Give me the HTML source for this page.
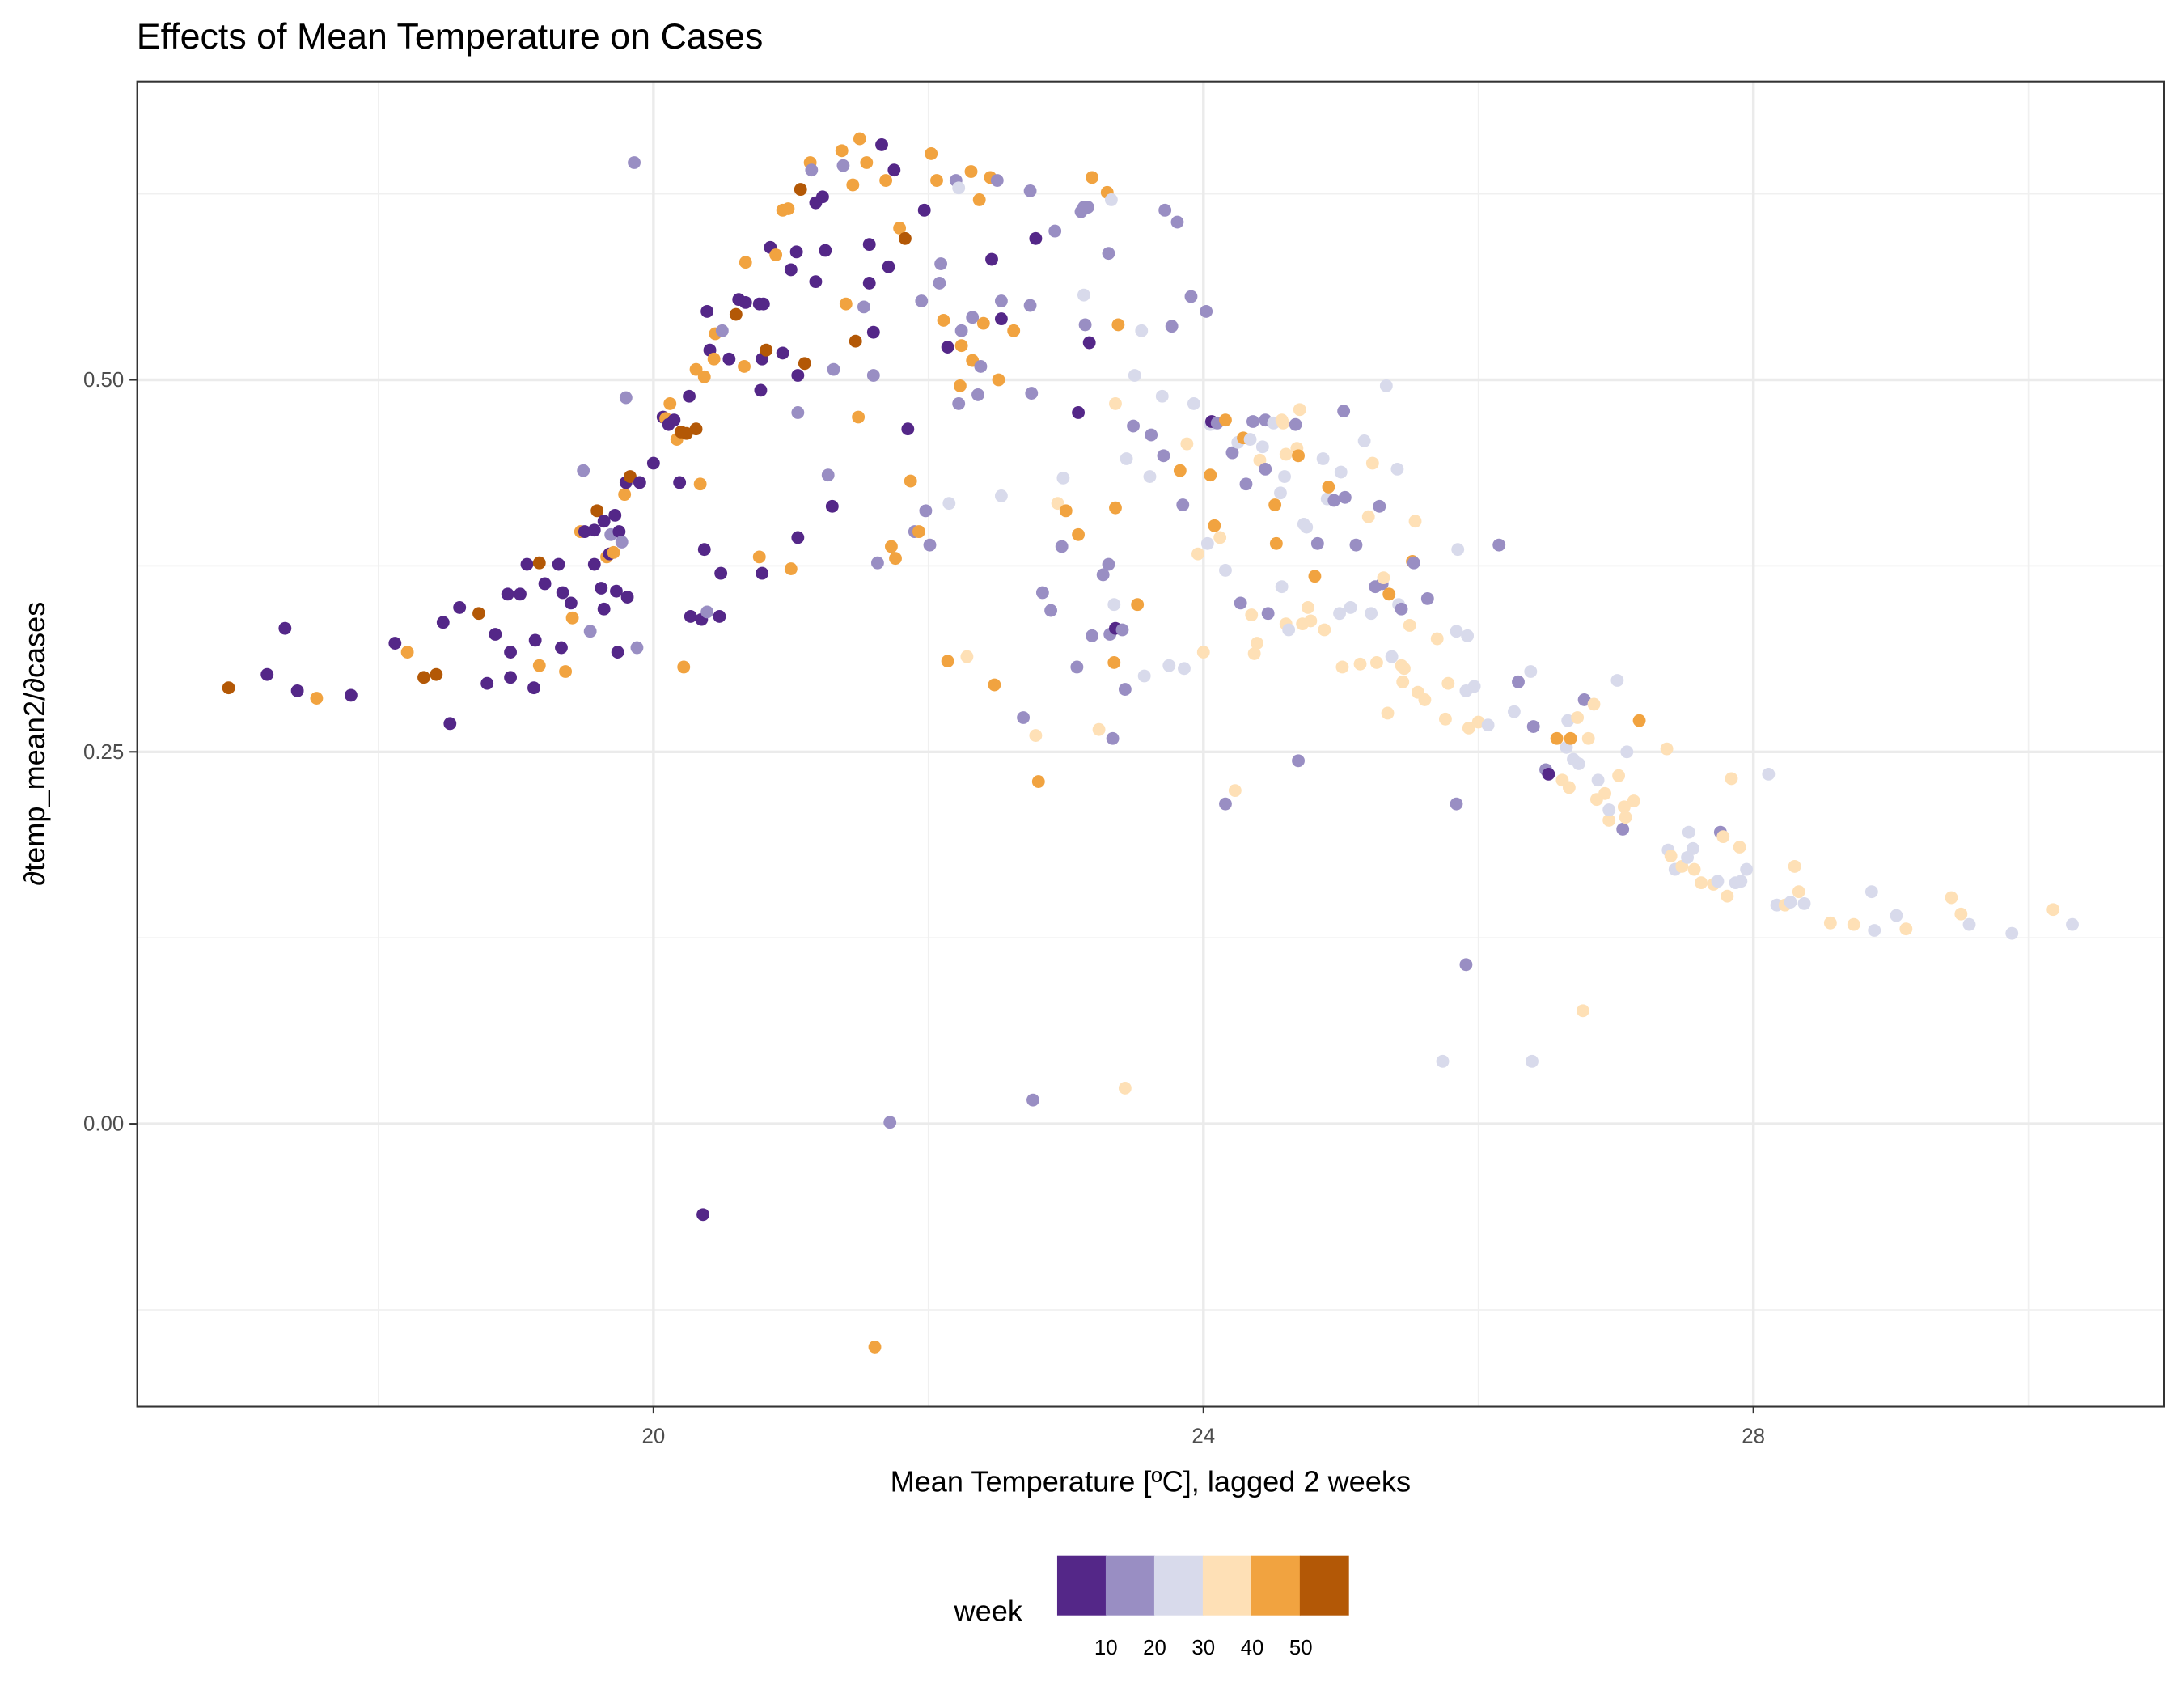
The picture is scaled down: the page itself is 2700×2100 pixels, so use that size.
<!DOCTYPE html>
<html><head><meta charset="utf-8"><title>Effects of Mean Temperature on Cases</title>
<style>html,body{margin:0;padding:0;background:#fff}svg{display:block}text{font-family:"Liberation Sans",Arial,sans-serif}</style>
</head><body>
<svg id="chart" width="2700" height="2100" viewBox="0 0 1568 1220" preserveAspectRatio="none" xmlns="http://www.w3.org/2000/svg">
<text x="98" y="35" font-size="26" fill="#000">Effects of Mean Temperature on Cases</text>
<g id="grid"></g>
<g id="pts"></g>
<rect x="98.5" y="58.5" width="1455" height="951.5" fill="none" stroke="#333" stroke-width="1.2"/>
<g id="axes"></g>
<text x="826" y="1071" font-size="21" text-anchor="middle" fill="#000">Mean Temperature [ºC], lagged 2 weeks</text>
<text transform="translate(32,534) rotate(-90)" font-size="21" text-anchor="middle" fill="#000">∂temp_mean2/∂cases</text>
<g id="legend">
<text x="685" y="1164" font-size="21" fill="#000">week</text>
</g>
</svg>
<script>
const temp=[16.91,17.19,17.32,17.41,17.55,17.80,18.12,18.21,18.33,18.42,18.47,18.52,18.59,18.73,18.79,18.85,18.94,18.96,18.96,19.03,19.08,19.13,19.14,19.17,19.17,19.21,19.31,19.33,19.34,19.36,19.40,19.41,19.47,19.49,19.50,19.54,19.57,19.57,19.59,19.62,19.64,19.64,19.66,19.68,19.69,19.71,19.72,19.73,19.74,19.75,19.77,19.79,19.80,19.81,19.80,19.83,19.86,19.88,19.90,
20.00,20.07,20.09,20.11,20.12,20.15,20.17,20.19,20.20,20.22,20.24,20.26,20.27,20.31,20.31,20.34,20.35,20.37,20.37,20.39,20.39,20.41,20.44,20.45,20.48,20.49,20.50,20.55,20.60,20.62,20.66,20.67,20.67,20.77,20.77,20.78,20.79,20.79,20.80,20.82,20.85,20.89,20.94,20.94,20.98,21.00,21.00,21.04,21.05,21.05,21.05,21.07,21.10,21.14,21.15,21.18,21.18,21.23,21.25,21.27,21.31,21.30,21.37,21.38,21.40,21.45,21.47,21.49,21.50,21.53,21.55,21.57,21.57,21.60,21.60,21.61,21.63,21.66,21.69,21.71,21.72,21.73,21.75,21.76,21.79,21.83,21.85,21.87,21.90,21.93,21.95,21.97,21.98,22.01,22.02,22.06,22.08,22.09,22.11,22.14,22.14,22.15,22.20,22.22,22.22,22.23,22.24,22.24,22.28,22.31,22.32,22.32,22.36,22.37,22.38,22.40,22.45,22.46,22.48,22.50,22.51,22.53,22.53,22.53,22.62,22.69,22.74,22.74,22.75,22.76,22.78,22.78,22.80,22.83,22.89,22.92,22.94,22.97,22.98,23.00,23.08,23.09,23.09,23.11,23.13,23.13,23.14,23.16,23.17,23.19,23.19,23.24,23.27,23.30,23.31,23.31,23.32,23.33,23.34,23.35,23.35,23.36,23.36,23.36,23.38,23.41,23.43,23.43,23.44,23.49,23.50,23.52,23.55,23.57,23.61,23.62,23.70,23.71,23.72,23.75,23.77,23.81,23.83,23.85,23.86,23.88,23.91,23.93,23.96,24.00,24.02,24.03,24.05,24.05,24.06,24.08,24.10,24.12,24.16,24.16,24.16,24.21,24.23,24.25,24.27,24.29,24.31,24.34,24.35,24.36,24.37,24.39,24.41,24.43,24.45,24.45,24.47,24.51,24.52,24.53,24.56,24.57,24.57,24.58,24.59,24.60,24.60,24.62,24.67,24.68,24.69,24.69,24.70,24.72,24.73,24.75,24.76,24.78,24.81,24.83,24.87,24.88,24.90,24.91,24.95,24.99,25.00,25.01,25.02,25.03,25.07,25.11,25.14,25.17,25.20,25.22,25.23,25.25,25.26,25.28,25.30,25.31,25.33,25.34,25.35,25.37,25.41,25.42,25.44,25.44,25.45,25.46,25.50,25.52,25.53,25.54,25.56,25.61,25.63,25.70,25.74,25.76,25.78,25.84,25.85,25.84,25.91,25.91,25.92,25.93,25.97,26.00,26.07,26.15,26.26,26.29,26.38,26.39,26.40,26.49,26.51,26.57,26.61,26.64,26.65,26.67,26.66,26.69,26.72,26.73,26.76,26.77,26.80,26.84,26.86,26.87,26.92,26.95,26.95,27.01,27.02,27.05,27.06,27.07,27.08,27.13,27.17,27.37,27.38,27.40,27.43,27.48,27.52,27.53,27.56,27.57,27.62,27.71,27.74,27.76,27.78,27.81,27.84,27.87,27.90,27.91,27.95,28.11,28.17,28.23,28.27,28.30,28.33,28.37,28.56,28.73,28.86,28.88,29.04,29.11,29.44,29.51,29.57,29.88,30.18,30.32,20.36];
const effect=[0.293,0.302,0.333,0.291,0.286,0.288,0.323,0.317,0.300,0.302,0.337,0.269,0.347,0.343,0.296,0.329,0.356,0.300,0.317,0.356,0.376,0.293,0.325,0.377,0.308,0.363,0.376,0.320,0.357,0.304,0.350,0.340,0.398,0.439,0.398,0.331,0.376,0.399,0.412,0.360,0.405,0.346,0.381,0.383,0.396,0.384,0.409,0.358,0.317,0.398,0.391,0.423,0.431,0.354,0.488,0.435,0.646,0.320,0.431,
0.444,0.475,0.474,0.470,0.484,0.473,0.460,0.431,0.465,0.307,0.464,0.489,0.341,0.507,0.467,0.430,0.339,0.502,0.386,0.344,0.546,0.520,0.514,0.531,0.341,0.370,0.533,0.514,0.544,0.554,0.509,0.552,0.579,0.551,0.381,0.493,0.514,0.370,0.551,0.520,0.589,0.584,0.518,0.614,0.615,0.574,0.373,0.586,0.503,0.394,0.478,0.628,0.511,0.646,0.641,0.619,0.566,0.623,0.587,0.436,0.507,0.415,0.654,0.644,0.551,0.631,0.526,0.475,0.662,0.549,0.646,0.591,0.565,0.532,0.503,-0.150,0.377,0.658,0.634,0.576,0.001,0.388,0.641,0.380,0.602,0.595,0.467,0.432,0.398,0.398,0.553,0.614,0.412,0.389,0.652,0.634,0.565,0.578,0.540,0.522,0.311,0.417,0.634,0.629,0.484,0.496,0.523,0.533,0.314,0.640,0.513,0.542,0.490,0.621,0.509,0.538,0.636,0.581,0.295,0.634,0.500,0.422,0.553,0.541,0.533,0.273,0.627,0.550,0.491,0.016,0.261,0.595,0.230,0.357,0.345,0.600,0.417,0.388,0.434,0.412,0.307,0.478,0.396,0.613,0.557,0.616,0.537,0.616,0.525,0.328,0.636,0.265,0.369,0.626,0.585,0.376,0.329,0.621,0.259,0.310,0.349,0.414,0.484,0.333,0.537,0.332,0.024,0.292,0.447,0.469,0.503,0.349,0.533,0.301,0.435,0.463,0.489,0.449,0.614,0.308,0.536,0.606,0.439,0.416,0.306,0.457,0.556,0.484,0.383,0.317,0.546,0.390,0.436,0.470,0.472,0.402,0.471,0.394,0.473,0.372,0.215,0.451,0.224,0.458,0.350,0.461,0.430,0.460,0.342,0.472,0.316,0.323,0.446,0.455,0.473,0.440,0.343,0.471,0.416,0.390,0.424,0.473,0.361,0.471,0.435,0.450,0.336,0.332,0.470,0.454,0.449,0.244,0.480,0.336,0.403,0.401,0.347,0.338,0.368,0.390,0.447,0.332,0.420,0.428,0.419,0.343,0.438,0.307,0.479,0.421,0.347,0.389,0.309,0.459,0.408,0.343,0.444,0.361,0.310,0.415,0.363,0.367,0.496,0.276,0.356,0.314,0.440,0.349,0.346,0.308,0.297,0.306,0.335,0.378,0.377,0.405,0.290,0.285,0.353,0.326,0.042,0.272,0.296,0.215,0.386,0.331,0.291,0.107,0.328,0.266,0.294,0.270,0.268,0.389,0.277,0.297,0.304,0.042,0.267,0.238,0.235,0.259,0.231,0.253,0.271,0.259,0.226,0.245,0.273,0.242,0.076,0.285,0.259,0.282,0.218,0.231,0.222,0.204,0.211,0.298,0.234,0.198,0.213,0.206,0.250,0.217,0.271,0.252,0.184,0.180,0.171,0.173,0.179,0.196,0.185,0.171,0.162,0.161,0.163,0.196,0.193,0.153,0.232,0.162,0.186,0.163,0.171,0.235,0.147,0.147,0.149,0.173,0.156,0.148,0.135,0.134,0.156,0.130,0.140,0.131,0.152,0.141,0.134,0.128,0.144,0.134,-0.061];
const weekClass=[5,0,0,0,4,0,0,4,5,5,0,0,0,5,0,0,0,0,0,0,0,0,0,5,4,0,0,0,0,4,0,4,4,1,0,1,0,0,5,0,0,0,4,0,1,4,0,0,0,0,1,4,0,0,1,5,1,1,0,
0,0,4,0,4,0,4,0,5,4,
5,0,0,4,5,4,0,4,0,1,
0,0,4,4,0,0,1,0,5,0,
4,0,4,0,4,0,0,0,0,5,
0,4,0,4,4,0,4,0,0,0,
1,5,5,4,1,0,0,0,0,1,
1,0,4,1,4,4,5,4,4,1,
4,0,0,0,1,4,1,0,4,0,
1,4,0,4,4,5,0,4,1,4,
1,0,1,1,4,4,1,1,4,0,
4,2,1,2,1,4,4,1,3,4,
4,1,1,4,1,4,4,0,4,1,
4,2,1,0,4,1,1,1,1,1,
3,0,4,1,1,1,3,1,2,4,
1,0,4,1,2,1,1,1,0,1,
4,3,1,4,1,1,1,2,1,4,
2,4,3,0,4,1,3,1,2,1,
2,4,2,2,2,1,2,1,1,2,
1,1,4,1,2,3,1,2,3,3,
1,2,4,2,0,4,1,3,4,2,
1,1,3,2,1,4,1,2,3,1,
3,3,3,2,1,1,1,2,4,4,
2,3,2,3,2,3,3,2,1,3,
4,1,3,3,2,2,3,3,4,1,
2,3,2,4,1,2,2,3,1,1,
2,1,3,2,3,2,3,1,3,1,
1,3,2,3,4,2,2,2,1,3,
3,3,3,4,1,3,3,3,1,3,
2,3,3,1,2,2,2,1,2,3,
2,3,2,1,2,1,2,2,1,1,
0,4,3,2,2,4,3,2,3,2,
3,1,3,3,3,2,3,3,2,2,
3,1,3,3,2,3,4,3,2,3,
2,3,2,2,2,3,3,3,2,1,
3,3,3,2,3,2,2,2,2,3,
2,3,3,2,3,3,2,2,2,3,
3,3,2,2,3,2,0];
const weekValues=[5,14,23,31,40,49];
const xTicks=[20,24,28];
const xMinor=[18,22,26,30];
const yTicks=[0.00,0.25,0.50];
const yMinor=[-0.125,0.125,0.375,0.625];
const legendLabels=[10,20,30,40,50];
const palette=["#542788","#998ec3","#d8daeb","#fee0b6","#f1a340","#b35806"];

const NS="http://www.w3.org/2000/svg";
const X0=98,X1=1554,Y0=58,Y1=1010;
const xmin=16.24,xmax=30.99,ymin=-0.190,ymax=0.701;
function sx(v){return X0+(v-xmin)/(xmax-xmin)*(X1-X0);}
function sy(v){return Y1-(v-ymin)/(ymax-ymin)*(Y1-Y0);}
function colorFor(w){const i=Math.min(5,Math.max(0,Math.floor((w-1)/(52/6))));return palette[i];}
function mk(tag,attrs,parent){const e=document.createElementNS(NS,tag);for(const k in attrs)e.setAttribute(k,attrs[k]);parent.appendChild(e);return e;}

const grid=document.getElementById('grid');
mk('rect',{x:X0,y:Y0,width:X1-X0,height:Y1-Y0,fill:'#fff'},grid);
xMinor.forEach(v=>{const l=mk('line',{x1:sx(v),x2:sx(v),y1:Y0,y2:Y1,stroke:'#f0f0f0','stroke-width':1},grid);

});
yMinor.forEach(v=>{const l=mk('line',{x1:X0,x2:X1,y1:sy(v),y2:sy(v),stroke:'#f0f0f0','stroke-width':1},grid);

});
xTicks.forEach(v=>{const l=mk('line',{x1:sx(v),x2:sx(v),y1:Y0,y2:Y1,stroke:'#ebebeb','stroke-width':2},grid);

});
yTicks.forEach(v=>{const l=mk('line',{x1:X0,x2:X1,y1:sy(v),y2:sy(v),stroke:'#ebebeb','stroke-width':2},grid);

});

const pts=document.getElementById('pts');
for(let i=0;i<temp.length;i++){
  const k=weekClass[i]===undefined?0:weekClass[i];
  const c=mk('circle',{cx:sx(temp[i]),cy:sy(effect[i]),r:4.6,fill:colorFor(weekValues[k])},pts);
  
  
}

const axes=document.getElementById('axes');
xTicks.forEach(v=>{
  const t=mk('line',{x1:sx(v),x2:sx(v),y1:Y1,y2:Y1+5,stroke:'#333','stroke-width':1.2},axes);
  
  
  const l=mk('text',{x:sx(v),y:Y1+26,'font-size':15,'text-anchor':'middle',fill:'#4d4d4d'},axes);
  l.textContent=String(v);
  
  
});
yTicks.forEach(v=>{
  const t=mk('line',{x1:X0-5,x2:X0,y1:sy(v),y2:sy(v),stroke:'#333','stroke-width':1.2},axes);
  
  
  const l=mk('text',{x:X0-9,y:sy(v)+5,'font-size':15,'text-anchor':'end',fill:'#4d4d4d'},axes);
  l.textContent=v.toFixed(2);
  
  
});

const legend=document.getElementById('legend');
const LX=759,LW=209,LY=1117,LH=43;
palette.forEach((col,i)=>{
  const r=mk('rect',{x:LX+i*LW/6,y:LY,width:LW/6+0.5,height:LH,fill:col},legend);
  
  
});
legendLabels.forEach(v=>{
  const t=mk('text',{x:LX+35*(v/10),y:LY+LH+28,'font-size':15,'text-anchor':'middle',fill:'#000'},legend);
  t.textContent=String(v);
  
  
});
</script>
</body></html>
